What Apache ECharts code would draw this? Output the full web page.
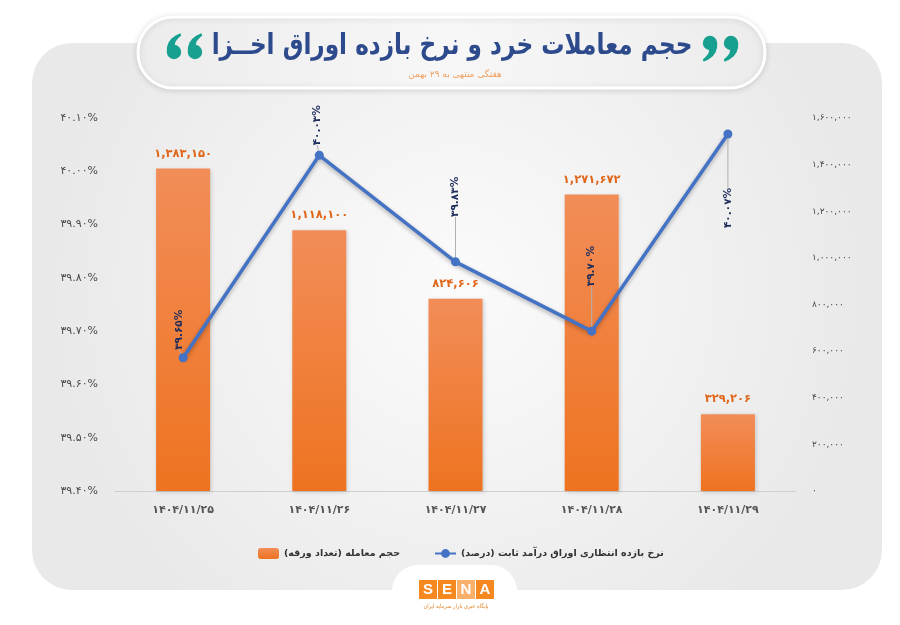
<!DOCTYPE html>
<html>
<head>
<meta charset="utf-8">
<script src="https://cdn.jsdelivr.net/npm/echarts@6/dist/echarts.min.js"></script>
<style>
html,body{margin:0;padding:0;background:#fff;}
#chart{width:900px;height:625px;}
</style>
</head>
<body>
<div id="chart"></div>
<script>
const categories = ['1404/11/25', '1404/11/26', '1404/11/27', '1404/11/28', '1404/11/29'];
const volumeValues = [1383150, 1118100, 824606, 1271672, 329206];
const rateValues = [39.65, 40.03, 39.83, 39.70, 40.07];
const titleText = 'حجم معاملات خرد و نرخ بازده اوراق اخــزا';
const subtitleText = 'هفتگی منتهی به ۲۹ بهمن';
const barName = 'حجم معامله (تعداد ورقه)';
const lineName = 'نرخ بازده انتظاری اوراق درآمد ثابت (درصد)';
const logoCaption = 'پایگاه خبری بازار سرمایه ایران';

const RLM = '\u200F';
const rtl = s => RLM + s + RLM;
const fa = s => String(s).replace(/\d/g, d => '۰۱۲۳۴۵۶۷۸۹'[d]);
const FONT = '"DejaVu Sans", "Noto Sans", sans-serif';

// screen offsets of the rotated line labels (up negative)
const labelDy = [-28, -30, -65, -65, 74];
const labelDx = [-4, -2, 0, 0, 0];

const chart = echarts.init(document.getElementById('chart'));

// comma shape ("9"): circle on top, tail going down-left
const tailPts = [[9,0],[8.8,6],[7,11.5],[3.5,16.5],[-2,20.5],[-8,23.5],[-9,20.5],[-5,17],[-2,13],[-1,9],[-5,0]];
function quote(x, y, rot) {
  return {
    type: 'group', x: x, y: y, rotation: rot, scaleX: 0.8, scaleY: 0.8, z: 11,
    children: [
      { type: 'circle', z: 11, shape: { cx: 0, cy: 0, r: 9 }, style: { fill: '#17a08f' } },
      { type: 'polygon', z: 11, shape: { points: tailPts }, style: { fill: '#17a08f' } }
    ]
  };
}

const logoLetters = ['S', 'E', 'N', 'A'];
const logoGraphics = [];
logoLetters.forEach((ch, i) => {
  logoGraphics.push({
    type: 'rect', z: 12,
    shape: { x: 419 + i * 19, y: 580, width: 18, height: 19 },
    style: { fill: i === 2 ? '#f8b06a' : '#f5891f' }
  });
  logoGraphics.push({
    type: 'text', z: 13,
    style: { x: 428 + i * 19, y: 589.5, text: ch, fill: '#fff', font: 'bold 15px "Liberation Sans", Arial, sans-serif', textAlign: 'center', textVerticalAlign: 'middle' }
  });
});

const option = {
  backgroundColor: '#ffffff',
  textStyle: { fontFamily: FONT },
  graphic: [
    {
      type: 'rect', z: -10, silent: true,
      shape: { x: 32, y: 43, width: 850, height: 547, r: 40 },
      style: {
        fill: new echarts.graphic.RadialGradient(0.5, 0.45, 0.75, [
          { offset: 0, color: '#fbfbfb' },
          { offset: 1, color: '#e9e9e9' }
        ])
      }
    },
    {
      type: 'rect', z: 10, silent: true,
      shape: { x: 138, y: 17, width: 627, height: 71, r: 35 },
      style: {
        fill: new echarts.graphic.LinearGradient(0, 0, 1, 0, [
          { offset: 0, color: '#ececec' },
          { offset: 0.5, color: '#f7f7f7' },
          { offset: 1, color: '#ececec' }
        ]),
        stroke: '#ffffff', lineWidth: 3,
        shadowBlur: 6, shadowColor: 'rgba(0,0,0,0.12)', shadowOffsetY: 1
      }
    },
    {
      type: 'text', z: 11, x: 452, y: 46, scaleX: 0.8,
      style: { x: 0, y: 0, text: titleText, fill: '#2c4a8c', font: 'bold 29px ' + FONT, textAlign: 'center', textVerticalAlign: 'middle' }
    },
    {
      type: 'text', z: 11,
      style: { x: 455, y: 75, text: subtitleText, fill: '#f0a060', font: '9px ' + FONT, textAlign: 'center', textVerticalAlign: 'middle' }
    },
    quote(174, 52, Math.PI),
    quote(195, 52, Math.PI),
    quote(710, 43, 0),
    quote(731, 43, 0),
    {
      type: 'rect', z: 11, silent: true,
      shape: { x: 392, y: 565, width: 125, height: 80, r: 26 },
      style: { fill: '#ffffff' }
    },
    {
      type: 'text', z: 13, x: 456, y: 606, scaleX: 0.85,
      style: { x: 0, y: 0, text: logoCaption, fill: '#e0892f', font: '6px ' + FONT, textAlign: 'center', textVerticalAlign: 'middle' }
    }
  ].concat(logoGraphics),
  grid: { left: 115, right: 104, top: 118, bottom: 134 },
  legend: {
    left: 253, top: 543,
    itemGap: 34, itemWidth: 21, itemHeight: 11,
    data: [rtl(barName), rtl(lineName)],
    textStyle: { color: '#333', fontSize: 9.5, fontWeight: 'bold', fontFamily: FONT }
  },
  xAxis: {
    type: 'category',
    data: categories.map(fa),
    axisLine: { show: true, lineStyle: { color: '#cfcfcf', width: 1 } },
    axisTick: { show: false },
    axisLabel: { color: '#555', fontSize: 11, fontWeight: 'bold', margin: 14, fontFamily: FONT }
  },
  yAxis: [
    {
      type: 'value', min: 39.4, max: 40.1, interval: 0.1,
      axisLine: { show: false }, axisTick: { show: false }, splitLine: { show: false },
      axisLabel: { color: '#4a4a4a', fontSize: 11, margin: 17, fontFamily: FONT, formatter: v => fa(v.toFixed(2)) + '%' }
    },
    {
      type: 'value', min: 0, max: 1600000, interval: 200000,
      axisLine: { show: false }, axisTick: { show: false }, splitLine: { show: false },
      axisLabel: { color: '#4a4a4a', fontSize: 9, margin: 16, fontFamily: FONT, formatter: v => fa(v.toLocaleString('en-US')) }
    }
  ],
  series: [
    {
      name: rtl(barName), type: 'bar', yAxisIndex: 1, barWidth: 54,
      data: volumeValues,
      itemStyle: {
        color: new echarts.graphic.LinearGradient(0, 0, 0, 1, [
          { offset: 0, color: '#f28d58' },
          { offset: 1, color: '#ee7320' }
        ]),
        shadowBlur: 4, shadowColor: 'rgba(0,0,0,0.18)', shadowOffsetX: 1, shadowOffsetY: 1
      },
      label: {
        show: true, position: 'top', distance: 9,
        color: '#e0661a', fontSize: 11.5, fontWeight: 'bold', fontFamily: FONT,
        formatter: p => fa(p.value.toLocaleString('en-US'))
      }
    },
    {
      name: rtl(lineName), type: 'line', yAxisIndex: 0,
      data: rateValues,
      symbol: 'circle', symbolSize: 9,
      lineStyle: { color: '#4472c4', width: 3.5, shadowBlur: 4, shadowColor: 'rgba(0,0,0,0.3)', shadowOffsetY: 2 },
      itemStyle: { color: '#4472c4' },
      z: 5,
      label: {
        show: true, position: 'inside', rotate: 90,
        color: '#1f2d5c', fontSize: 10.5, fontWeight: 'bold', fontFamily: FONT,
        formatter: p => fa(p.value.toFixed(2)) + '%'
      },
      labelLine: { show: true, lineStyle: { color: '#b0b0b0', width: 1 } },
      labelLayout: p => ({ dx: -labelDy[p.dataIndex], dy: labelDx[p.dataIndex] })
    }
  ]
};
chart.setOption(option);
</script>
</body>
</html>
